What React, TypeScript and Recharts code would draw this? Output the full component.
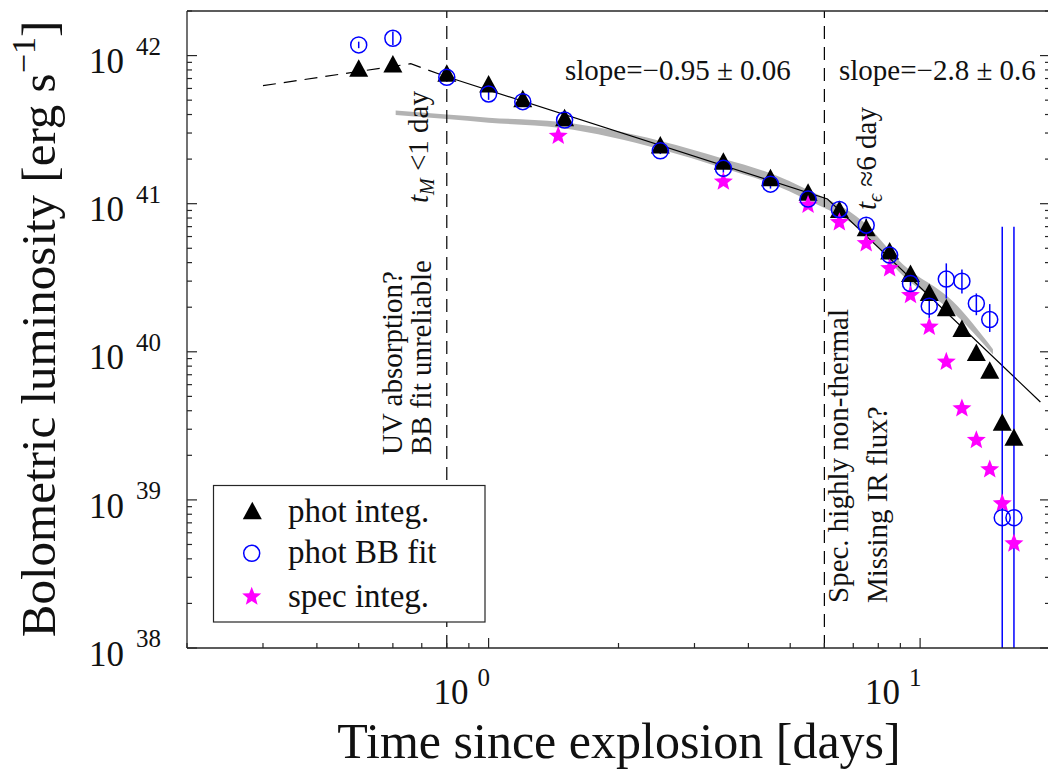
import React from "react";
import {
  ComposedChart, XAxis, YAxis, Scatter, Line, Area, ErrorBar, ReferenceLine,
} from "recharts";

const FONT = '"Liberation Serif", "Times New Roman", serif';
const INK = "#262626";
const TEXT = "#111111";
const BLUE = "#0000ff";
const MAGENTA = "#ff00ff";
const BAND = "#b3b3b3";

// Plot box in page pixels (the right edge sits just past the 1048px window).
const PLOT_LEFT = 187;
const PLOT_TOP = 11;
const PLOT_RIGHT = 1050;
const PLOT_BOTTOM = 648;
const CHART_W = 1060;
const CHART_H = 770;

// Time since explosion [days] for the photometric epochs.
const T_PHOT = [0.5, 0.6, 0.8, 1, 1.2, 1.5, 2.5, 3.5, 4.5, 5.5, 6.5, 7.5, 8.5, 9.5, 10.5, 11.5, 12.5, 13.5, 14.5, 15.5, 16.5];
// log10 L [erg/s].
const PHOT_INTEG_LOG = [41.914, 41.943, 41.880, 41.808, 41.709, 41.580, 41.396, 41.286, 41.175, 41.078, 40.961, 40.837, 40.680, 40.529, 40.401, 40.297, 40.157, 39.995, 39.876, 39.524, 39.423];
const PHOT_BB_LOG = [42.072, 42.117, 41.853, 41.741, 41.689, 41.565, 41.357, 41.239, 41.132, 41.031, 40.961, 40.855, 40.653, 40.461, 40.308, 40.491, 40.477, 40.326, 40.218, 38.880, 38.880];
const PHOT_BB_LO_LOG = [42.050, 42.072, 41.823, 41.701, 41.659, 41.535, 41.335, 41.209, 41.102, 40.986, 40.921, 40.810, 40.593, 40.380, 40.227, 40.360, 40.394, 40.247, 40.134, 38.0, 38.0];
const PHOT_BB_HI_LOG = [42.094, 42.162, 41.883, 41.781, 41.719, 41.595, 41.379, 41.269, 41.162, 41.076, 41.001, 40.900, 40.713, 40.542, 40.389, 40.597, 40.556, 40.394, 40.322, 40.844, 40.844];

const T_SPEC = [1.45, 3.5, 5.5, 6.5, 7.5, 8.5, 9.5, 10.5, 11.5, 12.5, 13.5, 14.5, 15.5, 16.5];
const SPEC_INTEG_LOG = [41.457, 41.148, 40.991, 40.874, 40.732, 40.563, 40.382, 40.168, 39.932, 39.617, 39.403, 39.205, 38.975, 38.705];

// Broken power-law fit: dashed before t_M, solid after.
const FIT_DASH_T = [0.3, 0.66, 0.8];
const FIT_DASH_LOG = [41.797, 41.945, 41.857];
const FIT_SOLID_T = [0.8, 6.1, 19];
const FIT_SOLID_LOG = [41.857, 41.032, 39.661];

// Grey model band: centre and half width (dex).
const BAND_T = [0.609, 0.8, 1.0, 1.47, 2.5, 3.5, 4.5, 5.5, 7.38, 9.13, 11.92, 14.75];
const BAND_MID_LOG = [41.614, 41.587, 41.564, 41.531, 41.396, 41.272, 41.171, 41.058, 40.844, 40.551, 40.303, 40.0];
const BAND_HALF = [0.015, 0.015, 0.017, 0.02, 0.028, 0.032, 0.034, 0.034, 0.034, 0.038, 0.036, 0.018];

const V_LINES = [0.8, 6];

const X_TICKS = [0.2, 0.3, 0.4, 0.5, 0.6, 0.7, 0.8, 0.9, 1, 2, 3, 4, 5, 6, 7, 8, 9, 10, 20];
const X_MAJOR = [1, 10];
const X_MAJOR_EXP = ["0", "1"];
const Y_TICKS = [
  1e38, 2e38, 3e38, 4e38, 5e38, 6e38, 7e38, 8e38, 9e38,
  1e39, 2e39, 3e39, 4e39, 5e39, 6e39, 7e39, 8e39, 9e39,
  1e40, 2e40, 3e40, 4e40, 5e40, 6e40, 7e40, 8e40, 9e40,
  1e41, 2e41, 3e41, 4e41, 5e41, 6e41, 7e41, 8e41, 9e41,
  1e42, 2e42,
];
const Y_MAJOR = [1e38, 1e39, 1e40, 1e41, 1e42];
const Y_MAJOR_EXP = ["38", "39", "40", "41", "42"];

const photInteg = T_PHOT.map((t, i) => ({ t, L: 10 ** PHOT_INTEG_LOG[i] }));
const photBB = T_PHOT.map((t, i) => {
  const L = 10 ** PHOT_BB_LOG[i];
  return { t, L, err: [L - 10 ** PHOT_BB_LO_LOG[i], 10 ** PHOT_BB_HI_LOG[i] - L] };
});
const specInteg = T_SPEC.map((t, i) => ({ t, L: 10 ** SPEC_INTEG_LOG[i] }));
const fitDash = FIT_DASH_T.map((t, i) => ({ t, L: 10 ** FIT_DASH_LOG[i] }));
const fitSolid = FIT_SOLID_T.map((t, i) => ({ t, L: 10 ** FIT_SOLID_LOG[i] }));
const band = BAND_T.map((t, i) => ({
  t, range: [10 ** (BAND_MID_LOG[i] - BAND_HALF[i]), 10 ** (BAND_MID_LOG[i] + BAND_HALF[i])],
}));

const majorIndex = (list: number[], v: number) => list.findIndex((m) => Math.abs(m / v - 1) < 1e-6);

// MATLAB-style ticks point into the box.
function BottomTick(props: any) {
  const { x, payload } = props;
  const k = majorIndex(X_MAJOR, payload.value);
  return (
    <g>
      <line x1={x} x2={x} y1={PLOT_BOTTOM} y2={PLOT_BOTTOM - (k >= 0 ? 10 : 5)} stroke={INK} strokeWidth={1.2} />
      {k >= 0 ? (
        <g fontFamily={FONT} fill={TEXT}>
          <text x={x - 20} y={704} fontSize={35} textAnchor="end">10</text>
          <text x={x - 11} y={686} fontSize={25} textAnchor="start">{X_MAJOR_EXP[k]}</text>
        </g>
      ) : null}
    </g>
  );
}

function TopTick(props: any) {
  const { x, payload } = props;
  const len = majorIndex(X_MAJOR, payload.value) >= 0 ? 10 : 5;
  return <line x1={x} x2={x} y1={PLOT_TOP} y2={PLOT_TOP + len} stroke={INK} strokeWidth={1.2} />;
}

function LeftTick(props: any) {
  const { y, payload } = props;
  const k = majorIndex(Y_MAJOR, payload.value);
  return (
    <g>
      <line x1={PLOT_LEFT} x2={PLOT_LEFT + (k >= 0 ? 10 : 5)} y1={y} y2={y} stroke={INK} strokeWidth={1.2} />
      {k >= 0 ? (
        <g fontFamily={FONT} fill={TEXT}>
          <text x={124} y={y + 17.7} fontSize={35} textAnchor="end">10</text>
          <text x={136} y={y - 0.6} fontSize={25} textAnchor="start">{Y_MAJOR_EXP[k]}</text>
        </g>
      ) : null}
    </g>
  );
}

function RightTick(props: any) {
  const { y, payload } = props;
  const len = majorIndex(Y_MAJOR, payload.value) >= 0 ? 10 : 5;
  return <line x1={PLOT_RIGHT} x2={PLOT_RIGHT - len} y1={y} y2={y} stroke={INK} strokeWidth={1.2} />;
}

function triPoints(cx: number, cy: number) {
  return `${cx},${cy - 9} ${cx + 9.5},${cy + 8.5} ${cx - 9.5},${cy + 8.5}`;
}
function starPoints(cx: number, cy: number, R = 10, r = 4.3) {
  const pts: string[] = [];
  for (let i = 0; i < 10; i++) {
    const a = ((-90 + i * 36) * Math.PI) / 180;
    const rad = i % 2 ? r : R;
    pts.push(`${cx + rad * Math.cos(a)},${cy + rad * Math.sin(a)}`);
  }
  return pts.join(" ");
}

const TriShape = (p: any) => <polygon points={triPoints(p.cx, p.cy)} fill="#000" />;
const StarShape = (p: any) => <polygon points={starPoints(p.cx, p.cy)} fill={MAGENTA} />;
const CircleShape = (p: any) => <circle cx={p.cx} cy={p.cy} r={8} fill="none" stroke={BLUE} strokeWidth={1.5} />;

function VText({ x, y, children }: { x: number; y: number; children: React.ReactNode }) {
  return (
    <text transform={`translate(${x},${y}) rotate(-90)`} fontSize={29} fontFamily={FONT} fill={TEXT}>
      {children}
    </text>
  );
}

function Overlay() {
  return (
    <svg width={1048} height={770} style={{ position: "absolute", left: 0, top: 0, pointerEvents: "none" }}>
      {/* axis titles */}
      <text transform="translate(55,329) rotate(-90)" textAnchor="middle" fontSize={49} fontFamily={FONT} fill={TEXT}>
        Bolometric luminosity [erg s<tspan fontSize={34} dy={-20}>−1</tspan><tspan dy={20}>]</tspan>
      </text>
      <text x={619} y={758} textAnchor="middle" fontSize={50} fontFamily={FONT} fill={TEXT}>
        Time since explosion [days]
      </text>

      {/* slope annotations */}
      <text x={565} y={80} fontSize={29} fontFamily={FONT} fill={TEXT}>slope=−0.95 ± 0.06</text>
      <text x={839} y={80} fontSize={29} fontFamily={FONT} fill={TEXT}>slope=−2.8 ± 0.6</text>

      {/* rotated notes */}
      <VText x={428} y={203}>
        <tspan fontStyle="italic">t</tspan>
        <tspan fontStyle="italic" fontSize={20} dy={6}>M</tspan>
        <tspan dy={-6}> &lt;1 day</tspan>
      </VText>
      <VText x={402} y={455}>UV absorption?</VText>
      <VText x={431} y={455}>BB fit unreliable</VText>
      <VText x={876} y={210}>
        <tspan fontStyle="italic">t</tspan>
        <tspan fontStyle="italic" fontSize={20} dy={6}>ϵ</tspan>
        <tspan dy={-6}> ≈6 day</tspan>
      </VText>
      <VText x={848} y={603}>Spec. highly non-thermal</VText>
      <VText x={887} y={603}>Missing IR flux?</VText>

      {/* legend */}
      <rect x={213.5} y={485.5} width={271.5} height={136.5} fill="#fff" stroke={INK} strokeWidth={1.2} />
      <polygon points={triPoints(252.3, 510.7)} fill="#000" />
      <circle cx={251.7} cy={553.3} r={8} fill="none" stroke={BLUE} strokeWidth={1.5} />
      <polygon points={starPoints(251.7, 596.7)} fill={MAGENTA} />
      <g fontSize={33} fontFamily={FONT} fill={TEXT}>
        <text x={288} y={521.7}>phot integ.</text>
        <text x={288} y={563.3}>phot BB fit</text>
        <text x={288} y={606.7}>spec integ.</text>
      </g>
    </svg>
  );
}

export default function App() {
  // Axes are 1px thick (Recharts skips 0-size axes), so the margins give that pixel back.
  return (
    <div style={{ position: "absolute", left: 0, top: 0, width: 1048, height: 770, overflow: "hidden", background: "#fff" }}>
      <ComposedChart
        width={CHART_W}
        height={CHART_H}
        margin={{
          left: PLOT_LEFT - 1, top: PLOT_TOP - 1,
          right: CHART_W - PLOT_RIGHT - 1, bottom: CHART_H - PLOT_BOTTOM - 1,
        }}
      >
        <XAxis
          xAxisId="b" dataKey="t" type="number" scale="log" domain={[0.2, 20]} allowDataOverflow
          ticks={X_TICKS} interval={0} tick={BottomTick} tickLine={false} height={1}
          axisLine={{ stroke: INK, strokeWidth: 1.3 }}
        />
        <XAxis
          xAxisId="t" orientation="top" type="number" scale="log" domain={[0.2, 20]} allowDataOverflow
          ticks={X_TICKS} interval={0} tick={TopTick} tickLine={false} height={1}
          axisLine={{ stroke: INK, strokeWidth: 1.3 }}
        />
        <YAxis
          yAxisId="l" dataKey="L" type="number" scale="log" domain={[1e38, 2e42]} allowDataOverflow
          ticks={Y_TICKS} interval={0} tick={LeftTick} tickLine={false} width={1}
          axisLine={{ stroke: INK, strokeWidth: 1.3 }}
        />
        <YAxis
          yAxisId="r" orientation="right" type="number" scale="log" domain={[1e38, 2e42]} allowDataOverflow
          ticks={Y_TICKS} interval={0} tick={RightTick} tickLine={false} width={1}
          axisLine={{ stroke: INK, strokeWidth: 1.3 }}
        />

        {V_LINES.map((v) => (
          <ReferenceLine key={v} xAxisId="b" yAxisId="l" x={v} stroke="#000" strokeWidth={1.2} strokeDasharray="13 8" />
        ))}

        <Area
          xAxisId="b" yAxisId="l" data={band} dataKey="range" type="monotone"
          stroke="none" fill={BAND} fillOpacity={1} isAnimationActive={false}
        />
        <Line
          xAxisId="b" yAxisId="l" data={fitDash} dataKey="L" type="linear" stroke="#000" strokeWidth={1.2}
          strokeDasharray="13 8" dot={false} activeDot={false} isAnimationActive={false}
        />
        <Line
          xAxisId="b" yAxisId="l" data={fitSolid} dataKey="L" type="linear" stroke="#000" strokeWidth={1.2}
          dot={false} activeDot={false} isAnimationActive={false}
        />
        <Scatter xAxisId="b" yAxisId="l" data={photInteg} dataKey="L" shape={TriShape} isAnimationActive={false} />
        <Scatter xAxisId="b" yAxisId="l" data={specInteg} dataKey="L" shape={StarShape} isAnimationActive={false} />
        <Scatter xAxisId="b" yAxisId="l" data={photBB} dataKey="L" shape={CircleShape} isAnimationActive={false}>
          <ErrorBar dataKey="err" direction="y" width={0} stroke={BLUE} strokeWidth={1.5} />
        </Scatter>
      </ComposedChart>
      <Overlay />
    </div>
  );
}
